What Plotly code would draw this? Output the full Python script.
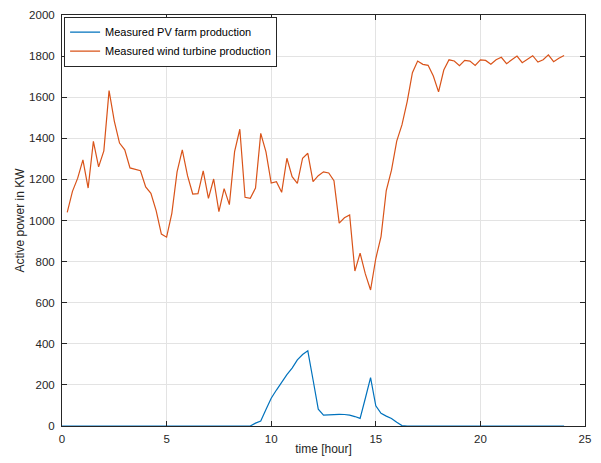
import numpy as np
import plotly.graph_objects as go

# Sample clocks (hours): PV logged from 0:00, wind from 0:15, both every 15 min
pv_hours = np.arange(0, 24.001, 0.25)
wind_hours = np.arange(0.25, 24.001, 0.25)

# Measured PV farm production (KW), 97 samples
pv_kw = [
    0, 0, 0, 0, 0, 0, 0, 0, 0, 0, 0, 0, 0, 0, 0, 0, 0, 0, 0, 0,
    0, 0, 0, 0, 0, 0, 0, 0, 0, 0, 0, 0, 0, 0, 0, 0, 0,
    14, 24, 80, 135, 175, 215, 250, 282, 322, 348, 366, 225, 82, 53, 55,
    57, 57, 56, 53, 46, 37, 135, 235, 98, 62, 48, 37, 18, 2,
    0, 0, 0, 0, 0, 0, 0, 0, 0, 0, 0, 0, 0, 0, 0, 0, 0, 0, 0, 0,
    0, 0, 0, 0, 0, 0, 0, 0, 0, 0, 0,
]

# Measured wind turbine production (KW), 96 samples
wind_kw = [
    1040, 1142, 1206, 1295, 1158, 1385, 1261, 1339, 1632, 1484, 1377, 1344,
    1256, 1248, 1242, 1163, 1132, 1048, 934, 919, 1035, 1237, 1344, 1218,
    1129, 1131, 1242, 1108, 1202, 1043, 1155, 1077, 1335, 1444, 1113, 1108,
    1158, 1424, 1334, 1182, 1189, 1137, 1303, 1213, 1181, 1303, 1327, 1189,
    1218, 1237, 1231, 1194, 987, 1013, 1027,
    754, 841, 740, 662, 815, 922, 1146, 1245, 1386, 1465,
    1579, 1719, 1776, 1760, 1755, 1703, 1626, 1732, 1782, 1776, 1753, 1779,
    1776, 1755, 1782, 1779, 1760, 1782, 1794, 1763, 1782, 1800, 1768, 1785,
    1802, 1771, 1782, 1806, 1773, 1790, 1803,
]

x_ticks = [0, 5, 10, 15, 20, 25]
y_ticks = [0, 200, 400, 600, 800, 1000, 1200, 1400, 1600, 1800, 2000]

BLUE = "#0072BD"
ORANGE = "#D95319"
AXIS = "#262626"
GRID = "#e3e3e3"
FONT = "Liberation Sans, Arial, sans-serif"

fig = go.Figure()
fig.add_trace(go.Scatter(
    x=pv_hours, y=pv_kw, mode="lines", name="Measured PV farm production",
    line=dict(color=BLUE, width=1.2),
))
fig.add_trace(go.Scatter(
    x=wind_hours, y=wind_kw, mode="lines", name="Measured wind turbine production",
    line=dict(color=ORANGE, width=1.2),
))

axis_common = dict(
    showline=True, linecolor=AXIS, linewidth=1, mirror="ticks",
    ticks="inside", ticklen=5, tickcolor=AXIS, tickwidth=1,
    showgrid=True, gridcolor=GRID, gridwidth=1, zeroline=False,
    automargin=False,
    tickfont=dict(family=FONT, size=11.5, color=AXIS),
)

fig.update_xaxes(
    range=[0, 25], tickvals=x_ticks, ticklabelstandoff=2,
    title=dict(text="time [hour]", font=dict(family=FONT, size=12, color=AXIS), standoff=0),
    **axis_common,
)
fig.update_yaxes(
    range=[0, 2000], tickvals=y_ticks, ticklabelstandoff=4,
    title=dict(text="Active power in KW", font=dict(family=FONT, size=12, color=AXIS), standoff=1),
    **axis_common,
)

fig.update_layout(
    width=601, height=463,
    margin=dict(l=62, r=16, t=15, b=37),
    paper_bgcolor="white", plot_bgcolor="white",
    font=dict(family=FONT, size=11, color=AXIS),
    legend=dict(
        x=0.004, y=0.996, xanchor="left", yanchor="top",
        bgcolor="white", bordercolor=AXIS, borderwidth=1,
        font=dict(family=FONT, size=11, color="black"),
        tracegroupgap=0, itemwidth=30,
    ),
    showlegend=True,
)

fig.write_html("out.html")
